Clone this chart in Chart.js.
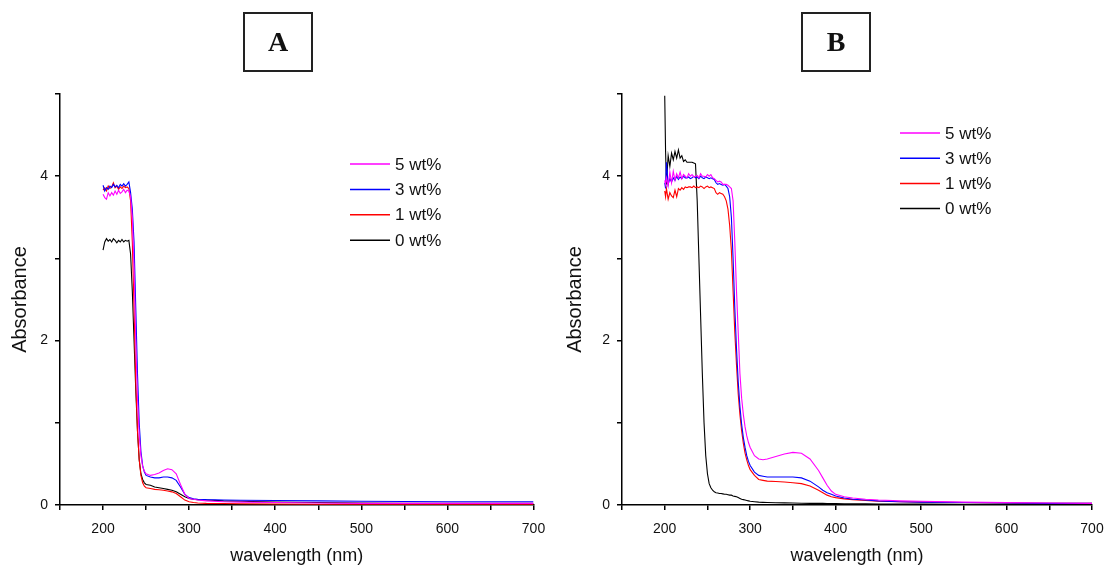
<!DOCTYPE html>
<html>
<head>
<meta charset="utf-8">
<script src="https://cdn.jsdelivr.net/npm/chart.js@4"></script>
<style>
  body { margin: 0; background: #fff; width: 1110px; height: 569px; position: relative; overflow: hidden; }
  canvas { position: absolute; top: 0; }
  .tag { position: absolute; top: 12px; width: 70px; height: 60px; box-sizing: border-box;
         border: 2px solid #222; font: bold 28px "Liberation Serif", serif;
         display: flex; align-items: center; justify-content: center; color: #111; }
</style>
</head>
<body>
<canvas id="chartA" width="555" height="569" style="left:0"></canvas>
<canvas id="chartB" width="555" height="569" style="left:555px"></canvas>
<div class="tag" style="left:243px">A</div>
<div class="tag" style="left:801px">B</div>
<script>
const LABELS = ["5 wt%", "3 wt%", "1 wt%", "0 wt%"];
const COLORS = ["#ff00ff", "#0000ff", "#ff0000", "#000000"];
const X_TICKS = [200, 300, 400, 500, 600, 700];
const Y_TICKS = [0, 2, 4];

// panel A
const aWl = [200,202,204,206,208,210,212,214,216,218,220,222,224,226,228,230,
  232,234,236,238,240,242,244,246,248,250,
  255,260,265,270,275,280,285,290,295,300,
  305,310,320,340,360,400,450,500,550,600,650,700];
const a5 = [3.78,3.74,3.72,3.8,3.76,3.8,3.77,3.82,3.78,3.83,3.79,3.81,3.84,3.8,3.83,3.82,
  3.75,3.5,2.9,2.0,1.3,0.85,0.6,0.47,0.41,0.38,
  0.36,0.37,0.39,0.42,0.44,0.43,0.38,0.25,0.13,0.08,
  0.07,0.06,0.05,0.04,0.035,0.03,0.025,0.02,0.02,0.02,0.02,0.02];
const a3 = [3.89,3.82,3.86,3.84,3.88,3.86,3.9,3.87,3.89,3.86,3.9,3.88,3.91,3.88,3.9,3.93,
  3.8,3.6,3.2,2.4,1.6,1.0,0.65,0.48,0.4,0.36,
  0.34,0.33,0.33,0.34,0.34,0.33,0.3,0.22,0.13,0.09,
  0.075,0.07,0.065,0.06,0.058,0.055,0.05,0.045,0.042,0.04,0.04,0.04];
const a1 = [3.83,3.86,3.82,3.88,3.85,3.87,3.92,3.86,3.88,3.84,3.87,3.85,3.88,3.86,3.87,3.85,
  3.7,3.2,2.4,1.5,0.9,0.55,0.36,0.27,0.23,0.21,
  0.2,0.19,0.185,0.18,0.17,0.16,0.14,0.1,0.06,0.04,
  0.03,0.025,0.02,0.018,0.015,0.012,0.01,0.01,0.01,0.01,0.01,0.01];
const a0 = [3.1,3.2,3.24,3.21,3.23,3.2,3.24,3.22,3.19,3.22,3.2,3.23,3.2,3.22,3.21,3.22,
  3.05,2.6,2.0,1.4,0.9,0.55,0.38,0.31,0.27,0.25,
  0.24,0.22,0.21,0.2,0.19,0.18,0.16,0.13,0.1,0.08,
  0.07,0.065,0.06,0.05,0.045,0.035,0.03,0.025,0.02,0.02,0.02,0.02];

// panel B
const bWl = [200,201,202,204,206,208,210,212,214,216,
  218,220,222,224,226,228,230,232,234,236,
  238,240,242,244,246,248,250,252,254,256,
  258,260,262,264,266,268,270,272,274,276,
  278,280,282,284,286,288,290,292,294,296,
  298,300,305,310,315,320,330,340,350,360,
  370,380,385,390,395,400,410,420,435,450,
  475,500,550,600,650,700];
const b5 = [3.95,3.9,3.98,3.88,4.05,3.92,4.06,3.95,4.03,3.98,
  4.05,3.97,4.02,4.0,3.98,4.03,4.0,4.02,3.99,4.0,
  4.01,3.98,4.03,4.0,4.0,3.99,4.02,4.0,4.02,3.98,
  3.97,3.95,3.93,3.94,3.93,3.9,3.9,3.9,3.89,3.87,
  3.85,3.7,3.2,2.6,2.1,1.6,1.3,1.1,0.95,0.84,
  0.76,0.7,0.6,0.56,0.55,0.56,0.59,0.62,0.64,0.63,
  0.56,0.42,0.33,0.24,0.17,0.13,0.1,0.085,0.07,0.06,
  0.05,0.045,0.035,0.03,0.025,0.02];
const b3 = [3.92,3.85,4.17,3.9,3.97,3.93,3.98,3.95,4.0,3.96,
  3.99,3.97,4.0,3.98,3.98,3.99,3.97,3.98,4.0,3.98,
  3.99,3.97,4.0,3.98,3.97,3.99,3.98,3.97,3.98,3.97,
  3.96,3.92,3.9,3.91,3.9,3.89,3.9,3.88,3.85,3.75,
  3.5,3.0,2.4,1.9,1.5,1.2,0.98,0.82,0.7,0.6,
  0.53,0.48,0.4,0.36,0.35,0.34,0.34,0.34,0.34,0.33,
  0.29,0.22,0.18,0.15,0.13,0.11,0.085,0.07,0.06,0.05,
  0.04,0.035,0.03,0.025,0.02,0.02];
const b1 = [3.82,3.75,3.85,3.72,3.8,3.76,3.74,3.83,3.75,3.85,
  3.83,3.86,3.84,3.87,3.86,3.87,3.87,3.86,3.88,3.86,
  3.87,3.86,3.88,3.87,3.85,3.87,3.88,3.86,3.87,3.86,
  3.85,3.8,3.78,3.8,3.79,3.78,3.75,3.7,3.6,3.4,
  3.1,2.6,2.1,1.7,1.35,1.1,0.9,0.75,0.63,0.55,
  0.48,0.43,0.36,0.31,0.3,0.29,0.285,0.28,0.27,0.26,
  0.23,0.18,0.15,0.12,0.1,0.09,0.075,0.065,0.055,0.045,
  0.04,0.035,0.03,0.025,0.02,0.02];
const b0 = [4.98,4.3,3.9,4.25,4.12,4.28,4.2,4.3,4.22,4.32,
  4.22,4.25,4.18,4.2,4.17,4.17,4.17,4.17,4.16,4.15,
  3.7,3.0,2.3,1.6,1.0,0.6,0.38,0.26,0.21,0.18,
  0.16,0.15,0.145,0.14,0.14,0.135,0.13,0.13,0.125,0.12,
  0.12,0.11,0.105,0.1,0.09,0.08,0.07,0.065,0.06,0.055,
  0.05,0.045,0.04,0.035,0.032,0.03,0.028,0.026,0.024,0.022,
  0.02,0.02,0.02,0.018,0.018,0.017,0.016,0.015,0.014,0.013,
  0.012,0.011,0.01,0.01,0.01,0.01];

const FONT = "'Liberation Sans', Arial, sans-serif";

// legend drawn inside the plot, top right
const insideLegend = {
  id: "insideLegend",
  afterDraw(chart, args, opts) {
    const ctx = chart.ctx;
    ctx.save();
    ctx.font = "17px " + FONT;
    ctx.textBaseline = "middle";
    LABELS.forEach((lab, i) => {
      const y = opts.y + i * opts.gap;
      ctx.strokeStyle = COLORS[i];
      ctx.lineWidth = 1.5;
      ctx.beginPath();
      ctx.moveTo(opts.x, y);
      ctx.lineTo(opts.x + 40, y);
      ctx.stroke();
      ctx.fillStyle = "#111";
      ctx.fillText(lab, opts.x + 45, y + 1);
    });
    ctx.restore();
  }
};

function makePanel(id, wl, series, yWidth, rightPad, legendPos) {
  const datasets = series.map((vals, i) => ({
    label: LABELS[i],
    data: wl.map((w, k) => ({ x: w, y: vals[k] })),
    borderColor: COLORS[i],
    borderWidth: 1.1,
    pointRadius: 0,
    tension: 0,
    fill: false
  }));
  const axisGrid = { drawOnChartArea: false, drawTicks: true, tickLength: 5, color: "#000", lineWidth: 1.5 };
  new Chart(document.getElementById(id), {
    type: "line",
    data: { datasets },
    options: {
      responsive: false,
      animation: false,
      layout: { padding: { top: 94, right: rightPad, left: 0, bottom: 0 } },
      plugins: {
        legend: { display: false },
        tooltip: { enabled: false },
        insideLegend: legendPos
      },
      scales: {
        x: {
          type: "linear", min: 150, max: 700,
          border: { display: true, color: "#000", width: 1.5 },
          grid: axisGrid,
          ticks: {
            stepSize: 50, autoSkip: false, maxRotation: 0, padding: 11,
            color: "#111", font: { family: FONT, size: 14 },
            callback: v => X_TICKS.includes(v) ? String(v) : ""
          },
          title: { display: true, text: "wavelength (nm)", color: "#111",
                   font: { family: FONT, size: 18 }, padding: { top: 0, bottom: 2 } },
          afterFit: s => { s.height = 64; s.paddingLeft = 0; s.paddingRight = 0; }
        },
        y: {
          min: 0, max: 5,
          border: { display: true, color: "#000", width: 1.5 },
          grid: axisGrid,
          ticks: {
            stepSize: 1, autoSkip: false, padding: 7,
            color: "#111", font: { family: FONT, size: 14 },
            callback: v => Y_TICKS.includes(v) ? String(v) : ""
          },
          title: { display: true, text: "Absorbance", color: "#111",
                   font: { family: FONT, size: 20 }, padding: { top: 8, bottom: 0 } },
          afterFit: s => { s.width = yWidth; }
        }
      }
    },
    plugins: [insideLegend]
  });
}

makePanel("chartA", aWl, [a5, a3, a1, a0], 60, 21.5, { x: 350, y: 164, gap: 25.4 });
makePanel("chartB", bWl, [b5, b3, b1, b0], 67, 18, { x: 345, y: 133, gap: 25.2 });
</script>
</body>
</html>
